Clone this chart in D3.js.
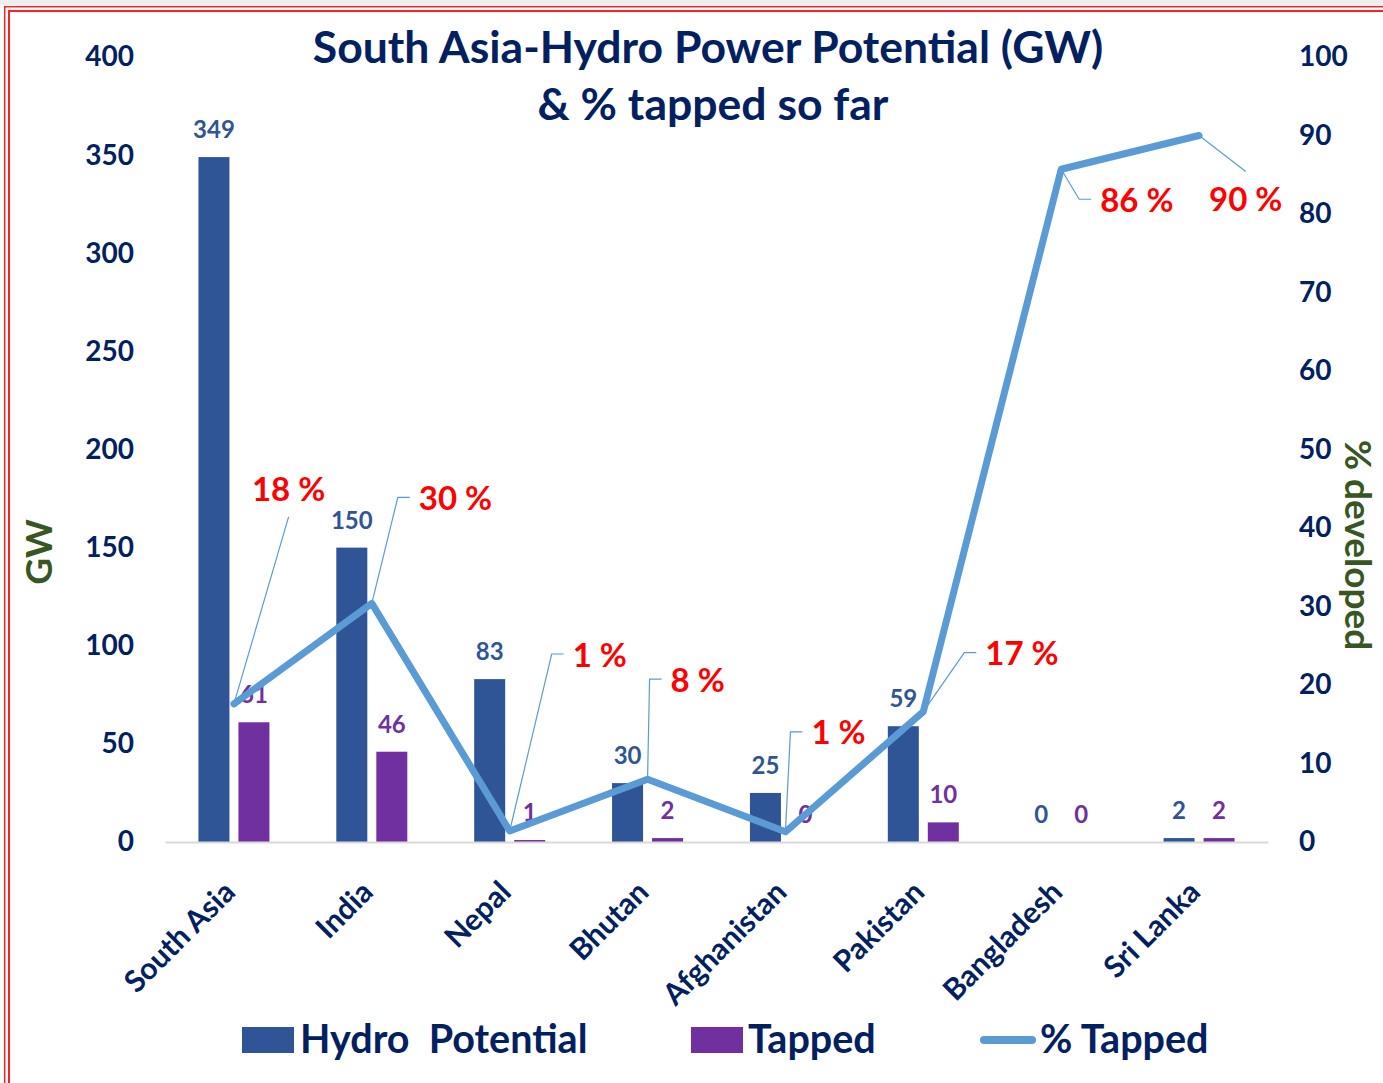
<!DOCTYPE html>
<html>
<head>
<meta charset="utf-8">
<script src="https://cdn.jsdelivr.net/npm/d3@7"></script>
<style>
  body { margin: 0; background: #fff; }
  svg { display: block; font-family: Lato, "Open Sans", sans-serif; font-weight: bold; }
</style>
</head>
<body>
<svg width="1383" height="1083"></svg>

<!-- data -->
<script>
    categories = ["South Asia", "India", "Nepal", "Bhutan", "Afghanistan", "Pakistan", "Bangladesh", "Sri Lanka"];
    hydroPotential = [349, 150, 83, 30, 25, 59, 0, 2];
    tapped = [61, 46, 1, 2, 0, 10, 0, 2];
    pctTapped = [17.6, 30.4, 1.4, 8, 1.3, 16.6, 85.7, 90];
    leftTicks = [0, 50, 100, 150, 200, 250, 300, 350, 400];
    rightTicks = [0, 10, 20, 30, 40, 50, 60, 70, 80, 90, 100];
    seriesNames = ["Hydro  Potential", "Tapped", "% Tapped"];
</script>

<script>
    svg = d3.select("svg");
    navy = "#002060";
    blue = "#2F5597";
    purple = "#7030A0";
    lineBlue = "#5B9BD5";
    green = "#375623";

    //frame: grey strip and red double line
    svg.append("rect").attr("x", 0).attr("y", 0).attr("width", 1383).attr("height", 5).attr("fill", "#eeeeee");
    svg.append("rect").attr("x", 4.7).attr("y", 6.7).attr("width", 1500).attr("height", 1200)
        .attr("fill", "none").attr("stroke", "#ff2020").attr("stroke-width", 1.5);
    svg.append("rect").attr("x", 9).attr("y", 11).attr("width", 1500).attr("height", 1200)
        .attr("fill", "none").attr("stroke", "#ff2020").attr("stroke-width", 2);

    //scales
    x0 = d3.scaleBand().domain(categories).range([165, 1268]);
    x1 = d3.scaleBand().domain(["hydro", "tapped"]).range([-35.5, 35.5]).paddingInner(0.225);
    yL = d3.scaleLinear().domain([0, 400]).range([842, 57]);
    yR = d3.scaleLinear().domain([0, 100]).range([842, 57]);
    cx = function(c) { return x0(c) + x0.bandwidth() / 2; };

    //title
    title = svg.append("text").attr("fill", navy).attr("font-size", 44.5).attr("text-anchor", "middle");
    title.append("tspan").attr("x", 708).attr("y", 63).text("South Asia-Hydro Power Potential (GW)");
    title.append("tspan").attr("x", 713).attr("y", 120).text("& % tapped so far");

    //left axis
    svg.append("g")
        .attr("transform", "translate(165,0)")
        .call(d3.axisLeft(yL).tickValues(leftTicks).tickSize(0).tickPadding(31))
        .call(g => g.select(".domain").remove())
        .selectAll("text").attr("fill", navy).attr("font-size", 28)
        .attr("font-family", "Lato, 'Open Sans', sans-serif");

    //right axis
    svg.append("g")
        .attr("transform", "translate(1268,0)")
        .call(d3.axisRight(yR).tickValues(rightTicks).tickSize(0).tickPadding(31))
        .call(g => g.select(".domain").remove())
        .selectAll("text").attr("fill", navy).attr("font-size", 28)
        .attr("font-family", "Lato, 'Open Sans', sans-serif");

    //axis titles
    svg.append("text").attr("transform", "translate(52,552) rotate(-90)")
        .attr("text-anchor", "middle").attr("fill", green).attr("font-size", 37).text("GW");
    svg.append("text").attr("transform", "translate(1345,545) rotate(90)")
        .attr("text-anchor", "middle").attr("fill", green).attr("font-size", 37).text("% developed");

    //bars
    groups = svg.append("g").selectAll("g").data(categories).enter().append("g")
        .attr("transform", function(d) { return "translate(" + cx(d) + ",0)"; });
    groups.append("rect")
        .attr("x", x1("hydro")).attr("width", x1.bandwidth())
        .attr("y", function(d, i) { return yL(hydroPotential[i]); })
        .attr("height", function(d, i) { return yL(0) - yL(hydroPotential[i]); })
        .attr("fill", blue);
    groups.append("rect")
        .attr("x", x1("tapped")).attr("width", x1.bandwidth())
        .attr("y", function(d, i) { return yL(tapped[i]); })
        .attr("height", function(d, i) { return yL(0) - yL(tapped[i]); })
        .attr("fill", purple);

    //x axis
    svg.append("g")
        .attr("transform", "translate(0,842)")
        .call(d3.axisBottom(x0).tickSize(0))
        .call(g => g.select(".domain").attr("stroke", "#d9d9d9").attr("stroke-width", 2))
        .selectAll("text")
        .attr("fill", navy).attr("font-size", 30)
        .attr("font-family", "Lato, 'Open Sans', sans-serif")
        .attr("text-anchor", "end")
        .attr("x", 0).attr("y", 0).attr("dy", 0)
        .attr("transform", "translate(3,52) rotate(-45)");

    //bar labels
    groups.append("text")
        .attr("x", x1("hydro") + x1.bandwidth() / 2)
        .attr("y", function(d, i) { return yL(hydroPotential[i]) - 19; })
        .attr("text-anchor", "middle").attr("fill", blue).attr("font-size", 24)
        .text(function(d, i) { return hydroPotential[i]; });
    groups.append("text")
        .attr("x", x1("tapped") + x1.bandwidth() / 2)
        .attr("y", function(d, i) { return yL(tapped[i]) - 19; })
        .attr("text-anchor", "middle").attr("fill", purple).attr("font-size", 24)
        .text(function(d, i) { return tapped[i]; });

    //% tapped line
    line = d3.line()
        .x(function(d, i) { return cx(categories[i]); })
        .y(function(d) { return yR(d); });
    svg.append("path").datum(pctTapped)
        .attr("d", line)
        .attr("fill", "none").attr("stroke", lineBlue).attr("stroke-width", 7)
        .attr("stroke-linejoin", "round").attr("stroke-linecap", "round");

    //% labels with leader lines (offset of label from its point)
    labelOffsets = [
        {dx: 18, dy: -214, elbow: false},
        {dx: 47, dy: -105, elbow: true},
        {dx: 63, dy: -176, elbow: true},
        {dx: 23, dy: -99, elbow: true},
        {dx: 26, dy: -99, elbow: true},
        {dx: 62, dy: -58, elbow: true},
        {dx: 39, dy: 31, elbow: true},
        {dx: 10, dy: 64, elbow: false}
    ];
    pl = svg.append("g");
    pctTapped.forEach(function(v, i) {
        px = cx(categories[i]);
        py = yR(v);
        o = labelOffsets[i];
        tx = px + o.dx;
        ty = py + o.dy;
        t = pl.append("text").attr("x", tx).attr("y", ty).attr("dy", "0.35em")
            .attr("fill", "#ff0000").attr("font-size", 33).text(Math.round(v) + " %");
        if (o.elbow) {
            pts = [[px, py], [tx - 21, ty - 1], [tx - 9, ty - 1]];
        } else {
            w = t.node().getComputedTextLength();
            pts = [[px, py], [tx + w / 2, o.dy < 0 ? ty + 27 : ty - 28]];
        }
        pl.append("path").attr("d", d3.line()(pts))
            .attr("fill", "none").attr("stroke", lineBlue).attr("stroke-width", 1.2);
    });

    //legend
    lg = svg.append("g").attr("font-size", 39.5).attr("fill", navy);
    lg.append("rect").attr("x", 242).attr("y", 1027).attr("width", 52).attr("height", 26).attr("fill", blue);
    lg.append("text").attr("x", 300).attr("y", 1053).attr("xml:space", "preserve").style("white-space", "pre").text(seriesNames[0]);
    lg.append("rect").attr("x", 691).attr("y", 1027).attr("width", 52).attr("height", 26).attr("fill", purple);
    lg.append("text").attr("x", 748).attr("y", 1053).text(seriesNames[1]);
    lg.append("line").attr("x1", 984).attr("x2", 1032).attr("y1", 1040).attr("y2", 1040)
        .attr("stroke", lineBlue).attr("stroke-width", 8).attr("stroke-linecap", "round");
    lg.append("text").attr("x", 1040).attr("y", 1053).text(seriesNames[2]);
</script>
</body>
</html>
